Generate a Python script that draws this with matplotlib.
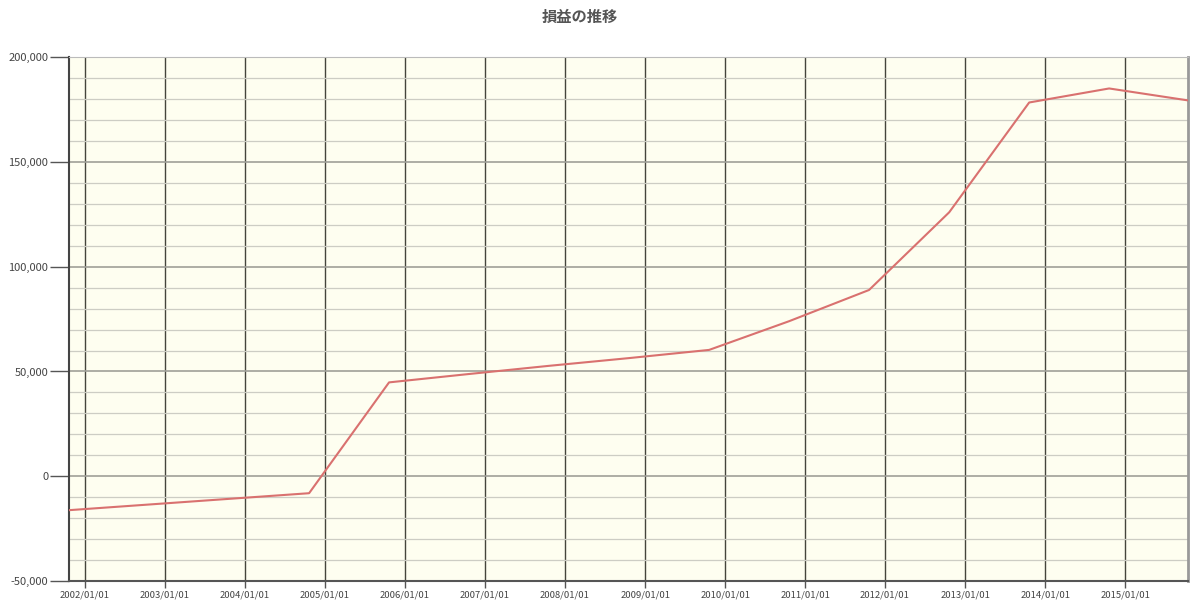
import matplotlib
matplotlib.use('Agg')
import matplotlib.pyplot as plt
import matplotlib.dates as mdates
import matplotlib.ticker as mticker
import numpy as np
from datetime import datetime

plt.rcParams['font.family'] = ['Noto Sans CJK JP', 'DejaVu Sans']

title = '損益の推移'
dates = ['2001-10-20', '2002-10-20', '2003-10-20', '2004-10-20', '2005-10-20',
         '2006-10-20', '2007-10-20', '2008-10-20', '2009-10-20', '2010-10-20',
         '2011-10-20', '2012-10-20', '2013-10-20', '2014-10-20', '2015-10-15']
profit = [-16200, -13500, -10800, -8100, 44800,
          48800, 52700, 56400, 60300, 74000,
          88900, 126000, 178400, 185100, 179400]
tick_years = list(range(2002, 2016))

x = [datetime.strptime(d, '%Y-%m-%d') for d in dates]

fig = plt.figure(figsize=(12, 6.09), dpi=100)
ax = fig.add_axes([0.0575, 0.046, 0.9325, 0.86])
ax.set_facecolor('#fefef0')

ax.plot(x, profit, color='#d9716f', lw=1.5, zorder=3)

ax.set_xlim(x[0], x[-1])
ax.set_ylim(-50000, 200000)

ax.set_xticks([datetime(y, 1, 1) for y in tick_years])
ax.xaxis.set_major_formatter(mdates.DateFormatter('%Y/%m/%d'))
ax.yaxis.set_major_locator(mticker.MultipleLocator(50000))
ax.yaxis.set_minor_locator(mticker.MultipleLocator(10000))
ax.yaxis.set_major_formatter(mticker.FuncFormatter(lambda v, p: f'{int(v):,}'))

ax.grid(axis='x', which='major', color='#45453c', lw=1.0, zorder=1)
ax.grid(axis='y', which='major', color='#a0a098', lw=1.2, zorder=1)
ax.grid(axis='y', which='minor', color='#cdcdc4', lw=0.9, zorder=1)

ax.tick_params(axis='y', which='major', length=14, width=1, color='#555555',
               labelsize=8, labelcolor='#444444', pad=1)
ax.tick_params(axis='y', which='minor', length=0)
ax.tick_params(axis='x', which='major', length=5, width=1, color='#555555',
               labelsize=6.8, labelcolor='#444444', pad=2)

ax.spines['left'].set_color('#444444')
ax.spines['left'].set_linewidth(1.5)
ax.spines['bottom'].set_color('#555555')
ax.spines['bottom'].set_linewidth(1.5)
ax.spines['top'].set_color('#bbbbbb')
ax.spines['right'].set_color('#999999')
ax.spines['right'].set_linewidth(2)

fig.text(0.483, 0.972, title, ha='center', va='center', fontsize=11,
         fontweight='bold', color='#555555')

fig.savefig('out.png', dpi=100)
